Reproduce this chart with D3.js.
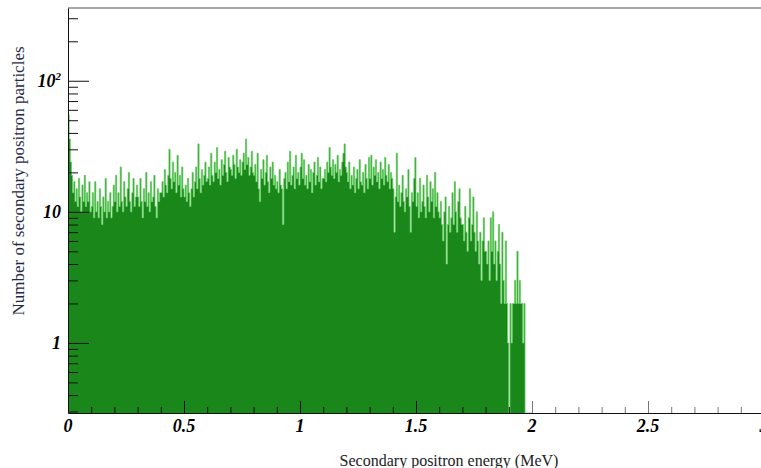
<!DOCTYPE html>
<html>
<head>
<meta charset="utf-8">
<script src="https://cdn.jsdelivr.net/npm/d3@7"></script>
<style>
  body { margin: 0; background: #fff; }
  svg { display: block; overflow: hidden; }
</style>
</head>
<body>
<div class="chart"></div>
<script>
// histogram bins, 0.005 MeV wide, starting at 0
var binWidth = 0.005;

// 0.0 - 0.5 MeV
var counts0 = [
  55, 36, 24, 19, 14, 17, 12, 15, 11, 18, 13, 10, 16, 12, 19, 11, 14, 12, 17, 10,
  11, 14, 9, 17, 10, 12, 9, 15, 11, 8, 13, 10, 18, 9, 12, 10, 14, 9, 11, 16,
  12, 19, 10, 14, 11, 22, 12, 10, 17, 13, 11, 15, 20, 12, 10, 14, 18, 11, 13, 16,
  13, 11, 18, 12, 9, 15, 12, 20, 11, 14, 10, 17, 12, 13, 19, 11, 9, 15, 12, 14,
  14, 17, 13, 21, 16, 14, 19, 30, 18, 15, 24, 17, 20, 14, 27, 16, 19, 13, 22, 15
];
// 0.5 - 1.0 MeV
var counts1 = [
  13, 16, 12, 18, 14, 11, 15, 20, 13, 17, 22, 15, 33, 18, 14, 21, 16, 19, 24, 17,
  18, 22, 16, 28, 19, 17, 24, 20, 31, 18, 21, 16, 25, 19, 23, 29, 20, 17, 26, 22,
  21, 19, 27, 23, 18, 30, 22, 20, 25, 19, 24, 28, 21, 36, 23, 26, 19, 22, 29, 20,
  19, 23, 17, 28, 15, 12, 21, 18, 25, 16, 20, 27, 17, 14, 22, 18, 24, 16, 19, 15,
  17, 14, 21, 16, 15, 8, 18, 20, 15, 24, 17, 29, 16, 19, 22, 15, 27, 18, 20, 16
];
// 1.0 - 1.5 MeV
var counts2 = [
  22, 28, 18, 25, 16, 19, 15, 23, 17, 21, 14, 20, 24, 16, 19, 26, 17, 22, 15, 18,
  18, 21, 17, 24, 20, 31, 22, 19, 25, 18, 23, 20, 27, 17, 21, 19, 24, 28, 33, 22,
  20, 17, 24, 15, 19, 16, 22, 14, 18, 21, 15, 25, 17, 16, 20, 14, 23, 18, 15, 26,
  18, 27, 16, 22, 19, 25, 17, 20, 15, 24, 18, 21, 16, 26, 19, 17, 23, 15, 20, 18,
  15, 7, 13, 28, 12, 16, 11, 14, 19, 12, 10, 15, 13, 21, 11, 7, 14, 12, 18, 26
];
// 1.5 - 2.0 MeV
var counts3 = [
  11, 14, 9, 18, 10, 12, 16, 11, 9, 19, 13, 10, 17, 12, 15, 9, 20, 11, 14, 10,
  9, 12, 8, 6, 10, 13, 4, 8, 11, 7, 9, 14, 8, 17, 10, 7, 12, 15, 9, 8,
  8, 6, 11, 7, 5, 9, 15, 6, 8, 13, 7, 5, 10, 6, 4, 7, 3, 6, 9, 5,
  5, 4, 6, 3, 9, 5, 10, 4, 6, 3, 5, 8, 4, 2, 7, 3, 2, 6, 2, 1,
  0, 2, 1, 2, 2, 3, 2, 5, 2, 3, 2, 2, 1, 2, 0, 0, 0, 0, 0, 0
];

var xTickValues = [0, 0.5, 1, 1.5, 2, 2.5, 3];
var xTickLabels = ["0", "0.5", "1", "1.5", "2", "2.5", "3"];
var yTickValues = [1, 10, 100];
var yTickLabels = ["1", "10", "10^2"];

var xTitle = "Secondary positron energy (MeV)";
var yTitle = "Number of secondary positron particles";

var svgWidth = 761;
var svgHeight = 468;

var margin = { top: 8, right: -3, bottom: 55, left: 68 };
var chartWidth = svgWidth - margin.left - margin.right;
var chartHeight = svgHeight - margin.top - margin.bottom;

var svg = d3.select(".chart")
  .append("svg")
  .attr("width", svgWidth)
  .attr("height", svgHeight);

var chartGroup = svg.append("g")
  .attr("transform", `translate(${margin.left}, ${margin.top})`);

var counts = counts0.concat(counts1, counts2, counts3);
var bins = counts.map(function(c, i) { return { x: i * binWidth, count: c }; });
// closing point for the last step
bins.push({ x: counts.length * binWidth, count: counts[counts.length - 1] });

// scales
var xLinearScale = d3.scaleLinear()
  .domain([0, 3])
  .range([0, chartWidth]);

var yLogScale = d3.scaleLog()
  .domain([0.292, 359])
  .range([chartHeight, 0]);

function yPos(c) {
  return c > 0 ? yLogScale(c) : chartHeight;
}

// filled histogram
var area = d3.area()
  .curve(d3.curveStepAfter)
  .x(d => xLinearScale(d.x))
  .y0(chartHeight)
  .y1(d => yPos(d.count));

chartGroup.append("path")
  .datum(bins)
  .attr("d", area)
  .attr("fill", "#1a871a");

// histogram outline
var outline = d3.line()
  .curve(d3.curveStepAfter)
  .x(d => xLinearScale(d.x))
  .y(d => yPos(d.count));

chartGroup.append("path")
  .datum(bins)
  .attr("d", outline)
  .attr("fill", "none")
  .attr("stroke", "#66d062")
  .attr("stroke-width", 0.8);

// frame top line
chartGroup.append("line")
  .attr("x1", 0).attr("x2", chartWidth)
  .attr("y1", 0).attr("y2", 0)
  .attr("stroke", "#8a8a8a")
  .attr("stroke-width", 1.5);

// x axis: ticks drawn upwards into the plot
var xMinor = d3.range(0, 31).map(d => d / 10);
var bottomAxis = d3.axisTop(xLinearScale)
  .tickValues(xMinor)
  .tickSize(0)
  .tickFormat("");

var xAxisGroup = chartGroup.append("g")
  .attr("transform", `translate(0, ${chartHeight})`)
  .call(bottomAxis);
xAxisGroup.select(".domain").attr("stroke", "#111");
xAxisGroup.selectAll(".tick line")
  .attr("y2", d => (xTickValues.indexOf(Math.round(d * 10) / 10) >= 0 ? -12 : -6))
  .attr("stroke", d => (d >= 2 ? "#777" : "#111"));

chartGroup.selectAll(".xlabel")
  .data(xTickValues)
  .enter()
  .append("text")
  .attr("class", "xlabel")
  .attr("x", d => xLinearScale(d))
  .attr("y", chartHeight + 19)
  .attr("text-anchor", "middle")
  .style("font-family", "'Liberation Serif', 'Times New Roman', serif")
  .style("font-weight", "bold")
  .style("font-style", "italic")
  .style("font-size", "18px")
  .text((d, i) => xTickLabels[i]);

// y axis, log minor ticks 2..9 in each decade
var yMinor = [];
[0.1, 1, 10, 100].forEach(function(dec) {
  d3.range(1, 10).forEach(function(k) {
    var v = dec * k;
    if (v >= 0.292 && v <= 359) yMinor.push(v);
  });
});

var leftAxis = d3.axisRight(yLogScale)
  .tickValues(yMinor)
  .tickSize(0)
  .tickFormat("");

var yAxisGroup = chartGroup.append("g")
  .call(leftAxis);
yAxisGroup.select(".domain").attr("stroke", "#111");
yAxisGroup.selectAll(".tick line")
  .attr("x2", d => (yTickValues.indexOf(Math.round(d)) >= 0 && d >= 1 ? 21 : 10))
  .attr("stroke", "#111");

var yLabels = chartGroup.selectAll(".ylabel")
  .data(yTickValues)
  .enter()
  .append("text")
  .attr("class", "ylabel")
  .attr("x", -7)
  .attr("y", d => yLogScale(d) + 6)
  .attr("text-anchor", "end")
  .style("font-family", "'Liberation Serif', 'Times New Roman', serif")
  .style("font-weight", "bold")
  .style("font-style", "italic")
  .style("font-size", "18px");

yLabels.each(function(d, i) {
  var parts = yTickLabels[i].split("^");
  var t = d3.select(this);
  t.append("tspan").text(parts[0]);
  if (parts.length > 1) {
    t.append("tspan")
      .attr("dy", -7)
      .style("font-size", "11px")
      .text(parts[1]);
  }
});

// axis titles
chartGroup.append("text")
  .attr("x", 381)
  .attr("y", chartHeight + 53)
  .attr("text-anchor", "middle")
  .style("font-family", "'Liberation Serif', 'Times New Roman', serif")
  .style("font-size", "16px")
  .attr("fill", "#222")
  .text(xTitle);

chartGroup.append("text")
  .attr("transform", "rotate(-90)")
  .attr("x", -(181 - margin.top))
  .attr("y", 24 - margin.left)
  .attr("text-anchor", "middle")
  .style("font-family", "'Liberation Serif', 'Times New Roman', serif")
  .style("font-size", "17px")
  .attr("fill", "#1e2a48")
  .text(yTitle);
</script>
</body>
</html>
